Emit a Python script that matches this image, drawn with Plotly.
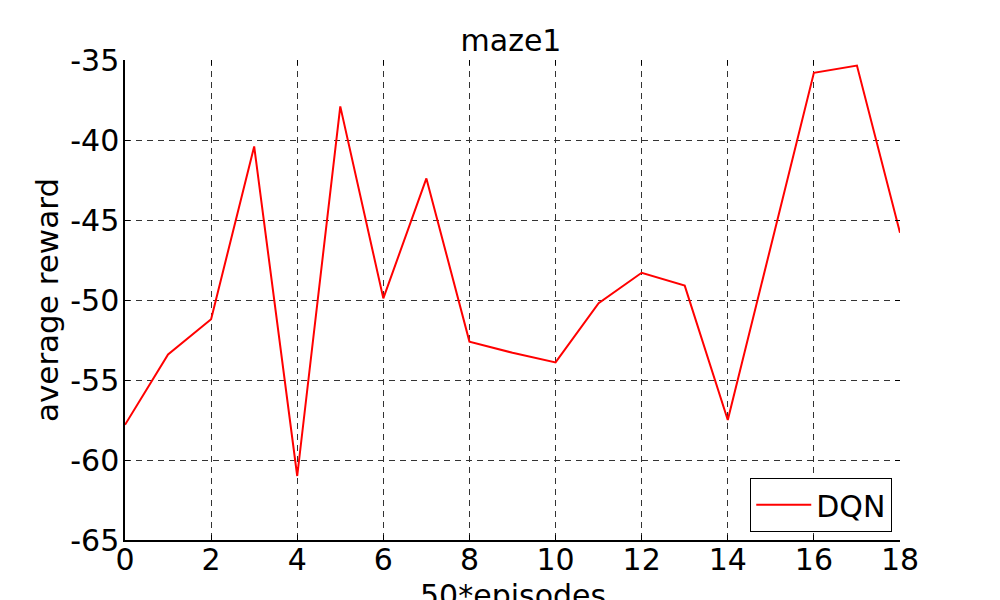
import plotly.graph_objects as go

# data
episodes = list(range(19))
avg_reward = [-57.8, -53.4, -51.2, -40.4, -61.0, -37.9, -49.9, -42.4, -52.6, -53.3,
              -53.9, -50.2, -48.3, -49.1, -57.5, -46.6, -35.8, -35.35, -45.8]
x_ticks = [0, 2, 4, 6, 8, 10, 12, 14, 16, 18]
y_ticks = [-65, -60, -55, -50, -45, -40, -35]
y_ticklabels = ["-65", "-60", "-55", "-50", "-45", "-40", "-35"]

FONT = "DejaVu Sans"

fig = go.Figure()

fig.add_trace(go.Scatter(
    x=episodes, y=avg_reward,
    mode='lines', name='DQN',
    line=dict(color='#ff0000', width=2)
))

# invisible trace so the mirrored top/right axes get drawn (ticks only)
fig.add_trace(go.Scatter(
    x=[episodes[0]], y=[avg_reward[0]], xaxis='x2', yaxis='y2',
    mode='markers', marker=dict(opacity=0), showlegend=False, hoverinfo='skip'
))

grid = dict(showgrid=True, gridcolor='#333333', gridwidth=1, griddash='6px,5px')

# page has an 8px body margin, so margins are shifted to land the axes at 125..900 / 60..540
fig.update_layout(
    width=1000, height=600,
    paper_bgcolor='white', plot_bgcolor='white',
    margin=dict(l=117, r=108, t=52, b=68, autoexpand=False),
    font=dict(family=FONT, size=30, color='black'),
    title=dict(text='maze1', x=0.503, xanchor='center', y=0.928, yanchor='bottom',
               font=dict(size=30)),
    xaxis=dict(
        range=[0, 18], tickvals=x_ticks, ticks='inside', ticklen=5, tickcolor='black',
        showline=True, linecolor='black', linewidth=1.5, zeroline=False, automargin=False,
        ticklabelstandoff=-8, **grid
    ),
    yaxis=dict(
        range=[-65, -35], tickvals=y_ticks, ticktext=y_ticklabels,
        ticks='inside', ticklen=5, tickcolor='black',
        showline=True, linecolor='black', linewidth=1.5, zeroline=False, automargin=False,
        ticklabelstandoff=-2, **grid
    ),
    xaxis2=dict(
        range=[0, 18], tickvals=x_ticks, overlaying='x', side='top', anchor='y',
        ticks='inside', ticklen=5, tickcolor='black', showticklabels=False,
        showgrid=False, showline=False, zeroline=False, automargin=False
    ),
    yaxis2=dict(
        range=[-65, -35], tickvals=y_ticks, overlaying='y', side='right', anchor='x',
        ticks='inside', ticklen=5, tickcolor='black', showticklabels=False,
        showgrid=False, showline=False, zeroline=False, automargin=False
    ),
    legend=dict(
        x=0.99, xanchor='right', y=0.017, yanchor='bottom',
        bgcolor='white', bordercolor='black', borderwidth=1,
        itemwidth=55, font=dict(size=30)
    ),
    showlegend=True
)

fig.add_annotation(
    text='50*episodes', xref='paper', yref='paper', x=0.5, y=0,
    xanchor='center', yanchor='top', yshift=-36, showarrow=False,
    font=dict(size=30)
)
fig.add_annotation(
    text='average reward', xref='paper', yref='paper', x=-0.1006, y=0.5,
    xanchor='center', yanchor='middle', textangle=-90, showarrow=False,
    font=dict(size=31)
)

fig.write_html("out.html")
